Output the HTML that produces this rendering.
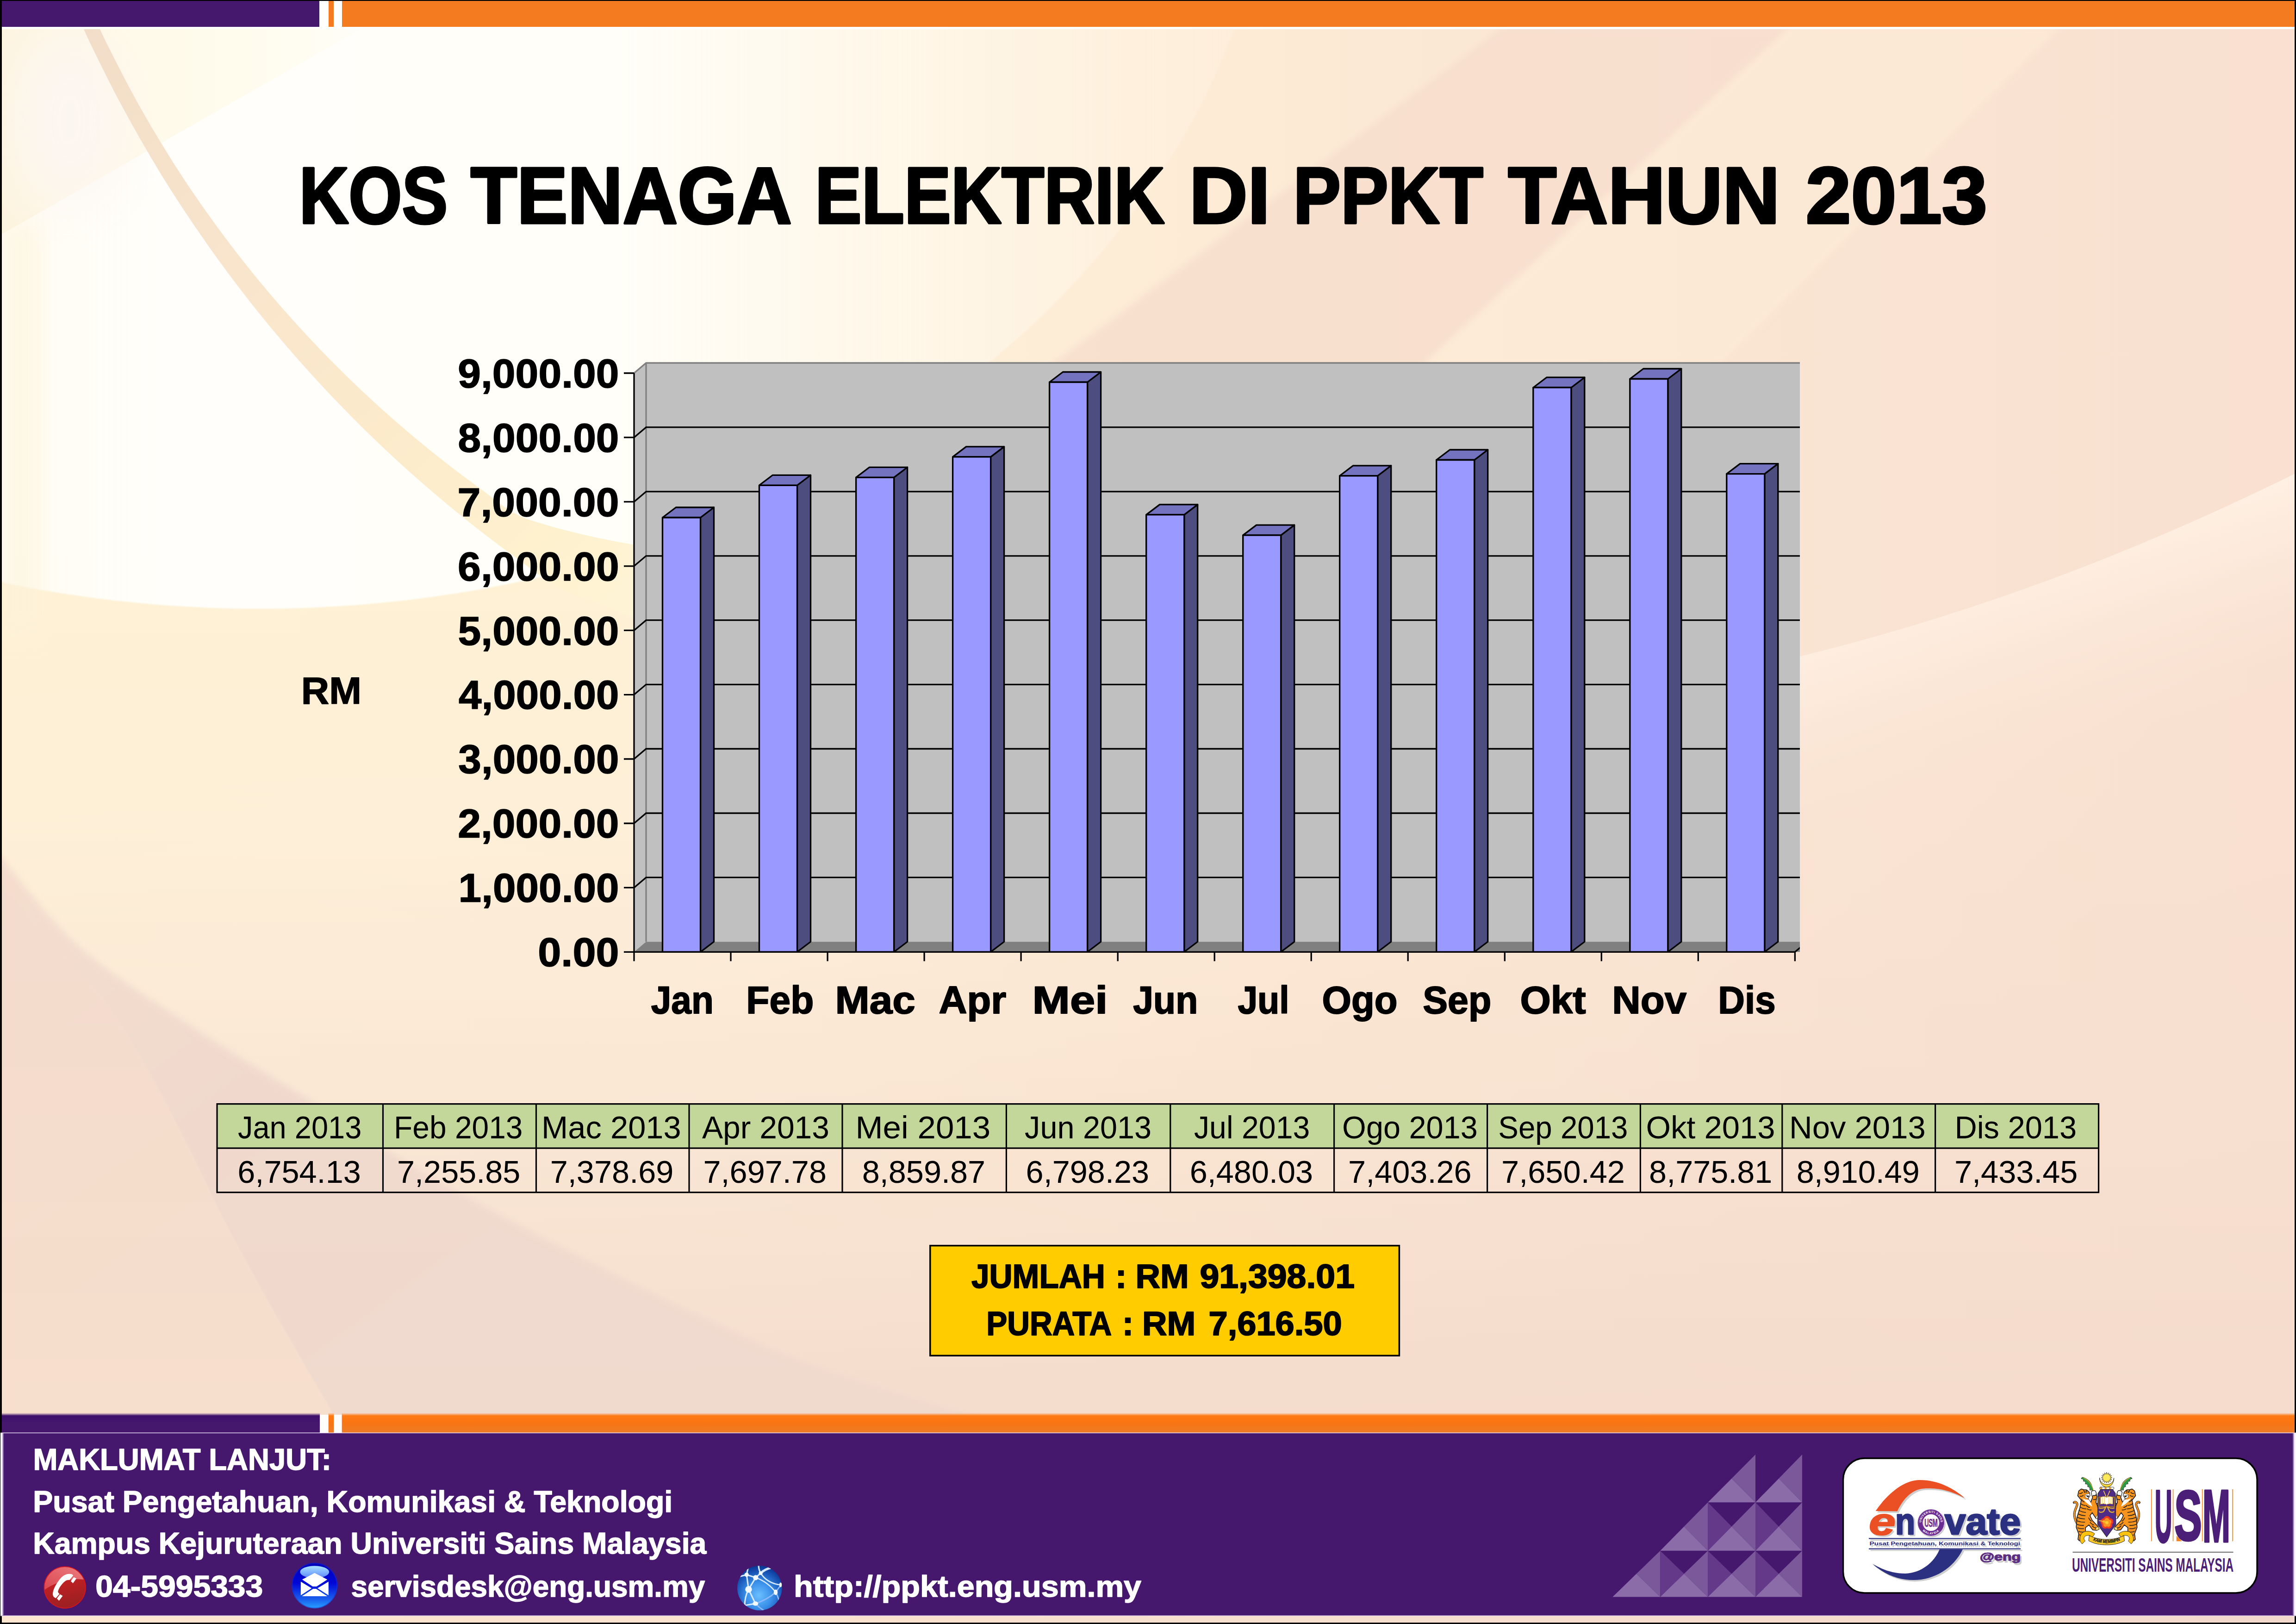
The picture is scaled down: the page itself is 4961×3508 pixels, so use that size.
<!DOCTYPE html>
<html lang="ms"><head><meta charset="utf-8"><title>KOS TENAGA ELEKTRIK DI PPKT TAHUN 2013</title>
<style>html,body{margin:0;padding:0;background:#000;}body{width:4961px;height:3508px;overflow:hidden;position:relative;}svg{position:absolute;left:0;top:0;display:block;font-family:'Liberation Sans', sans-serif;}</style>
</head><body>
<svg width="4961" height="3508" viewBox="0 0 4961 3508">
<defs>
<linearGradient id="bgbase" x1="0" y1="0" x2="1" y2="0"><stop offset="0" stop-color="#FEF2DA"/><stop offset="0.3" stop-color="#FEF1DB"/><stop offset="0.5" stop-color="#FDECD6"/><stop offset="0.75" stop-color="#FAE4D2"/><stop offset="1" stop-color="#F9E0D0"/></linearGradient>
<filter id="blur60" x="-20%" y="-20%" width="140%" height="140%"><feGaussianBlur stdDeviation="60"/></filter>
<filter id="blur120" x="-30%" y="-30%" width="160%" height="160%"><feGaussianBlur stdDeviation="120"/></filter>
<filter id="blur25" x="-20%" y="-20%" width="140%" height="140%"><feGaussianBlur stdDeviation="25"/></filter>
<filter id="blur3"><feGaussianBlur stdDeviation="1.5"/></filter>
<filter id="blur8" x="-5%" y="-5%" width="110%" height="110%"><feGaussianBlur stdDeviation="7"/></filter>
<clipPath id="pageclip"><rect x="4" y="63" width="4954" height="3442"/></clipPath>
<clipPath id="chartclip"><rect x="1300" y="770" width="2589" height="1330"/></clipPath>
</defs>
<rect x="0" y="0" width="4961" height="3508" fill="#000"/>
<rect x="4" y="2" width="4954" height="3503" fill="url(#bgbase)"/>
<g clip-path="url(#pageclip)">
<defs><linearGradient id="gBand" gradientUnits="userSpaceOnUse" x1="4400" y1="1150" x2="4560" y2="1650"><stop offset="0" stop-color="#FFF3E8" stop-opacity="1"/><stop offset="0.25" stop-color="#FEEEE0" stop-opacity="0.85"/><stop offset="1" stop-color="#F8E2D2" stop-opacity="0"/></linearGradient><linearGradient id="gArc" gradientUnits="userSpaceOnUse" x1="200" y1="60" x2="1400" y2="1330"><stop offset="0" stop-color="#F2DDC8"/><stop offset="0.3" stop-color="#F8E4CC"/><stop offset="0.6" stop-color="#FCEACB"/><stop offset="0.85" stop-color="#FEF1CE"/><stop offset="1" stop-color="#FEF4D6"/></linearGradient><linearGradient id="gGlow" gradientUnits="userSpaceOnUse" x1="0" y1="0" x2="3300" y2="0"><stop offset="0" stop-color="#FFFDF4" stop-opacity="0.9"/><stop offset="0.1" stop-color="#FFFEFA" stop-opacity="1"/><stop offset="0.4" stop-color="#FFFEF8" stop-opacity="1"/><stop offset="0.62" stop-color="#FFF8EA" stop-opacity="0.75"/><stop offset="1" stop-color="#FDEBD6" stop-opacity="0"/></linearGradient><linearGradient id="gBot" gradientUnits="userSpaceOnUse" x1="0" y1="1700" x2="0" y2="3060"><stop offset="0" stop-color="#F6DECE" stop-opacity="0"/><stop offset="0.5" stop-color="#F6DECE" stop-opacity="0.55"/><stop offset="1" stop-color="#F4DBCC" stop-opacity="0.95"/></linearGradient><linearGradient id="gBL" gradientUnits="userSpaceOnUse" x1="0" y1="1900" x2="900" y2="3100"><stop offset="0" stop-color="#F4DCCD"/><stop offset="0.5" stop-color="#F0D8CC"/><stop offset="1" stop-color="#F0D9CE"/></linearGradient><linearGradient id="gCream" gradientUnits="userSpaceOnUse" x1="0" y1="1250" x2="0" y2="2100"><stop offset="0" stop-color="#FEF1D4" stop-opacity="0.9"/><stop offset="1" stop-color="#FDEBD2" stop-opacity="0"/></linearGradient></defs>
<rect x="0" y="1200" width="2400" height="950" fill="url(#gCream)"/>
<rect x="0" y="1700" width="4961" height="1400" fill="url(#gBot)"/>
<ellipse cx="560" cy="-442" rx="2200" ry="1757" fill="url(#gGlow)" filter="url(#blur3)"/>
<defs><linearGradient id="gWedge" gradientUnits="userSpaceOnUse" x1="0" y1="0" x2="800" y2="0"><stop offset="0" stop-color="#FCF0D6"/><stop offset="0.3" stop-color="#FEF7DF"/><stop offset="0.7" stop-color="#FFFBEA"/><stop offset="1" stop-color="#FFFEF6"/></linearGradient></defs>
<polygon points="0,60 784,60 0,508" fill="url(#gWedge)" opacity="0.7"/>
<ellipse cx="150" cy="260" rx="130" ry="200" fill="#FCF6F4" opacity="0.8" filter="url(#blur60)"/>
<rect x="0" y="480" width="90" height="900" fill="#FDF3DC" opacity="0.55" filter="url(#blur25)"/>
<polygon points="3245,60 3866,60 3075,789 2850,1000 2050,1000 2268,789" fill="#F7DDCD" opacity="0.75" filter="url(#blur8)"/>
<polygon points="3866,60 4450,60 3400,1100 3075,789" fill="#FEEDD8" opacity="0.6" filter="url(#blur8)"/>
<path d="M166.2,30 C171.8,42.3 184.4,71.6 200.0,103.7 C215.6,135.8 238.3,182.2 260.0,222.7 C281.7,263.1 306.7,307.3 330.0,346.5 C353.3,385.7 375.0,420.1 400.0,457.8 C425.0,495.4 453.3,536.1 480.0,572.6 C506.7,609.1 531.7,641.6 560.0,676.7 C588.3,711.8 620.0,749.3 650.0,783.2 C680.0,817.1 710.0,849.2 740.0,880.1 C770.0,911.0 800.0,940.4 830.0,968.7 C860.0,997.1 889.2,1023.4 920.0,1050.1 C950.8,1076.8 983.3,1103.8 1015.0,1129.0 C1046.7,1154.2 1078.3,1178.2 1110.0,1201.3 C1141.7,1224.5 1175.0,1250.9 1205.0,1267.8 C1235.0,1284.8 1262.5,1292.1 1290.0,1303.0 C1317.5,1313.9 1343.3,1323.5 1370.0,1333.0 C1396.7,1342.5 1436.7,1355.5 1450.0,1360.0 L1450,1190 C1436.7,1187.8 1400.0,1182.5 1370.0,1177.0 C1340.0,1171.5 1302.2,1164.3 1270.0,1157.0 C1237.8,1149.7 1203.7,1141.2 1177.0,1133.0 C1150.3,1124.8 1132.8,1120.6 1110.0,1108.0 C1087.2,1095.4 1065.0,1075.6 1040.0,1057.1 C1015.0,1038.6 988.3,1019.3 960.0,997.0 C931.7,974.6 900.0,949.0 870.0,923.2 C840.0,897.4 810.0,870.5 780.0,842.2 C750.0,813.8 720.0,784.3 690.0,753.0 C660.0,721.7 628.3,686.9 600.0,654.3 C571.7,621.6 546.7,591.3 520.0,557.1 C493.3,523.0 465.0,484.8 440.0,449.3 C415.0,413.8 393.3,381.4 370.0,344.3 C346.7,307.2 322.5,266.9 300.0,226.6 C277.5,186.3 251.5,135.4 235.0,102.6 C218.5,69.9 206.5,42.1 200.8,30.0 Z" fill="url(#gArc)"/>
<path d="M3880,1420 C4250,1330 4600,1200 4961,1022 L4961,1700 L3880,1900 Z" fill="url(#gBand)"/>
<path d="M-40,1790 C-33.3,1799.5 -35.3,1804.5 0.0,1847.0 C35.3,1889.5 103.0,1983.3 172.0,2045.0 C241.0,2106.7 327.7,2159.5 414.0,2217.0 C500.3,2274.5 609.0,2338.8 690.0,2390.0 C771.0,2441.2 818.5,2476.2 900.0,2524.0 C981.5,2571.8 1086.2,2628.2 1179.0,2677.0 C1271.8,2725.8 1364.2,2772.8 1457.0,2817.0 C1549.8,2861.2 1631.3,2902.5 1736.0,2942.0 C1840.7,2981.5 1991.0,3025.2 2085.0,3054.0 C2179.0,3082.8 2264.2,3104.8 2300.0,3115.0 L-40,3115 Z" fill="url(#gBL)" opacity="0.9" filter="url(#blur8)"/>
<defs><linearGradient id="gBL2" gradientUnits="userSpaceOnUse" x1="0" y1="1900" x2="0" y2="3060"><stop offset="0" stop-color="#F3DBCD"/><stop offset="1" stop-color="#F9E1CD"/></linearGradient></defs>
<path d="M0,1907 C80,2000 150,2070 215,2148 C300,2260 380,2420 448,2562 C540,2750 630,2900 715,3045 L730,3110 L0,3110 Z" fill="url(#gBL2)" opacity="0.85" filter="url(#blur3)"/>
</g>
<rect x="4" y="2" width="4954" height="61" fill="#fff"/>
<rect x="4" y="2" width="686" height="56" fill="#45186E"/>
<rect x="710" y="2" width="11" height="56" fill="#F47B20"/>
<rect x="739" y="2" width="4219" height="56" fill="#F47B20"/>
<g id="title">
<text x="646.4" y="482.0" font-size="173" font-weight="bold" fill="#000" text-anchor="start" textLength="320.9" lengthAdjust="spacingAndGlyphs" stroke="#000" stroke-width="5" stroke-linejoin="round">KOS</text>
<text x="1016.7" y="482.0" font-size="173" font-weight="bold" fill="#000" text-anchor="start" textLength="694.2" lengthAdjust="spacingAndGlyphs" stroke="#000" stroke-width="5" stroke-linejoin="round">TENAGA</text>
<text x="1760.9" y="482.0" font-size="173" font-weight="bold" fill="#000" text-anchor="start" textLength="755.6" lengthAdjust="spacingAndGlyphs" stroke="#000" stroke-width="5" stroke-linejoin="round">ELEKTRIK</text>
<text x="2569.4" y="482.0" font-size="173" font-weight="bold" fill="#000" text-anchor="start" textLength="174.8" lengthAdjust="spacingAndGlyphs" stroke="#000" stroke-width="5" stroke-linejoin="round">DI</text>
<text x="2794.2" y="482.0" font-size="173" font-weight="bold" fill="#000" text-anchor="start" textLength="410.7" lengthAdjust="spacingAndGlyphs" stroke="#000" stroke-width="5" stroke-linejoin="round">PPKT</text>
<text x="3258.6" y="482.0" font-size="173" font-weight="bold" fill="#000" text-anchor="start" textLength="587.2" lengthAdjust="spacingAndGlyphs" stroke="#000" stroke-width="5" stroke-linejoin="round">TAHUN</text>
<text x="3901.4" y="482.0" font-size="173" font-weight="bold" fill="#000" text-anchor="start" textLength="392.5" lengthAdjust="spacingAndGlyphs" stroke="#000" stroke-width="5" stroke-linejoin="round">2013</text>
</g>
<g id="chart">
<g clip-path="url(#chartclip)">
<rect x="1396.0" y="784.0" width="2548.4" height="1250.3" fill="#C0C0C0"/>
<polygon points="1370.0,806.0 1396.0,784.0 1396.0,2034.3 1370.0,2056.3" fill="#C0C0C0"/>
<polygon points="1370.0,2056.3 1396.0,2034.3 3944.4,2034.3 3918.4,2056.3" fill="#808080"/>
<path d="M1370.0,806.0 L1396.0,784.0 H3958.4 M1396.0,784.0 V2034.3" fill="none" stroke="#808080" stroke-width="3.3"/>
<path d="M1370.0,1917.4 L1396.0,1895.4 H3958.4 M1370.0,1778.5 L1396.0,1756.5 H3958.4 M1370.0,1639.5 L1396.0,1617.5 H3958.4 M1370.0,1500.6 L1396.0,1478.6 H3958.4 M1370.0,1361.7 L1396.0,1339.7 H3958.4 M1370.0,1222.8 L1396.0,1200.8 H3958.4 M1370.0,1083.9 L1396.0,1061.9 H3958.4 M1370.0,944.9 L1396.0,922.9 H3958.4" fill="none" stroke="#000" stroke-width="3.3"/>
<path d="M3878.4,2056.3 l26.0,-22.0" stroke="#000" stroke-width="3.3" fill="none"/>
<g stroke="#000" stroke-width="3.3" stroke-linejoin="round"><polygon points="1513.5,1118.0 1542.5,1096.0 1542.5,2034.3 1513.5,2056.3" fill="#4D4D80"/><polygon points="1431.5,1118.0 1460.5,1096.0 1542.5,1096.0 1513.5,1118.0" fill="#7373BF"/><rect x="1431.5" y="1118.0" width="82.0" height="938.3" fill="#9999FF"/></g>
<g stroke="#000" stroke-width="3.3" stroke-linejoin="round"><polygon points="1722.5,1048.3 1751.5,1026.3 1751.5,2034.3 1722.5,2056.3" fill="#4D4D80"/><polygon points="1640.5,1048.3 1669.5,1026.3 1751.5,1026.3 1722.5,1048.3" fill="#7373BF"/><rect x="1640.5" y="1048.3" width="82.0" height="1008.0" fill="#9999FF"/></g>
<g stroke="#000" stroke-width="3.3" stroke-linejoin="round"><polygon points="1931.6,1031.3 1960.6,1009.3 1960.6,2034.3 1931.6,2056.3" fill="#4D4D80"/><polygon points="1849.6,1031.3 1878.6,1009.3 1960.6,1009.3 1931.6,1031.3" fill="#7373BF"/><rect x="1849.6" y="1031.3" width="82.0" height="1025.0" fill="#9999FF"/></g>
<g stroke="#000" stroke-width="3.3" stroke-linejoin="round"><polygon points="2140.6,986.9 2169.6,964.9 2169.6,2034.3 2140.6,2056.3" fill="#4D4D80"/><polygon points="2058.6,986.9 2087.6,964.9 2169.6,964.9 2140.6,986.9" fill="#7373BF"/><rect x="2058.6" y="986.9" width="82.0" height="1069.4" fill="#9999FF"/></g>
<g stroke="#000" stroke-width="3.3" stroke-linejoin="round"><polygon points="2349.6,825.5 2378.6,803.5 2378.6,2034.3 2349.6,2056.3" fill="#4D4D80"/><polygon points="2267.6,825.5 2296.6,803.5 2378.6,803.5 2349.6,825.5" fill="#7373BF"/><rect x="2267.6" y="825.5" width="82.0" height="1230.8" fill="#9999FF"/></g>
<g stroke="#000" stroke-width="3.3" stroke-linejoin="round"><polygon points="2558.7,1111.9 2587.7,1089.9 2587.7,2034.3 2558.7,2056.3" fill="#4D4D80"/><polygon points="2476.7,1111.9 2505.7,1089.9 2587.7,1089.9 2558.7,1111.9" fill="#7373BF"/><rect x="2476.7" y="1111.9" width="82.0" height="944.4" fill="#9999FF"/></g>
<g stroke="#000" stroke-width="3.3" stroke-linejoin="round"><polygon points="2767.7,1156.1 2796.7,1134.1 2796.7,2034.3 2767.7,2056.3" fill="#4D4D80"/><polygon points="2685.7,1156.1 2714.7,1134.1 2796.7,1134.1 2767.7,1156.1" fill="#7373BF"/><rect x="2685.7" y="1156.1" width="82.0" height="900.2" fill="#9999FF"/></g>
<g stroke="#000" stroke-width="3.3" stroke-linejoin="round"><polygon points="2976.7,1027.8 3005.7,1005.8 3005.7,2034.3 2976.7,2056.3" fill="#4D4D80"/><polygon points="2894.7,1027.8 2923.7,1005.8 3005.7,1005.8 2976.7,1027.8" fill="#7373BF"/><rect x="2894.7" y="1027.8" width="82.0" height="1028.5" fill="#9999FF"/></g>
<g stroke="#000" stroke-width="3.3" stroke-linejoin="round"><polygon points="3185.7,993.5 3214.7,971.5 3214.7,2034.3 3185.7,2056.3" fill="#4D4D80"/><polygon points="3103.7,993.5 3132.7,971.5 3214.7,971.5 3185.7,993.5" fill="#7373BF"/><rect x="3103.7" y="993.5" width="82.0" height="1062.8" fill="#9999FF"/></g>
<g stroke="#000" stroke-width="3.3" stroke-linejoin="round"><polygon points="3394.8,837.2 3423.8,815.2 3423.8,2034.3 3394.8,2056.3" fill="#4D4D80"/><polygon points="3312.8,837.2 3341.8,815.2 3423.8,815.2 3394.8,837.2" fill="#7373BF"/><rect x="3312.8" y="837.2" width="82.0" height="1219.1" fill="#9999FF"/></g>
<g stroke="#000" stroke-width="3.3" stroke-linejoin="round"><polygon points="3603.8,818.5 3632.8,796.5 3632.8,2034.3 3603.8,2056.3" fill="#4D4D80"/><polygon points="3521.8,818.5 3550.8,796.5 3632.8,796.5 3603.8,818.5" fill="#7373BF"/><rect x="3521.8" y="818.5" width="82.0" height="1237.8" fill="#9999FF"/></g>
<g stroke="#000" stroke-width="3.3" stroke-linejoin="round"><polygon points="3812.8,1023.6 3841.8,1001.6 3841.8,2034.3 3812.8,2056.3" fill="#4D4D80"/><polygon points="3730.8,1023.6 3759.8,1001.6 3841.8,1001.6 3812.8,1023.6" fill="#7373BF"/><rect x="3730.8" y="1023.6" width="82.0" height="1032.7" fill="#9999FF"/></g>
</g>
<path d="M1370.0,806.0 V2076.3 M1348.0,2056.3 H3878.4 M1348.0,1917.4 H1370.0 M1348.0,1778.5 H1370.0 M1348.0,1639.5 H1370.0 M1348.0,1500.6 H1370.0 M1348.0,1361.7 H1370.0 M1348.0,1222.8 H1370.0 M1348.0,1083.9 H1370.0 M1348.0,944.9 H1370.0 M1348.0,806.0 H1370.0 M1579.0,2056.3 V2076.3 M1788.1,2056.3 V2076.3 M1997.1,2056.3 V2076.3 M2206.1,2056.3 V2076.3 M2415.2,2056.3 V2076.3 M2624.2,2056.3 V2076.3 M2833.2,2056.3 V2076.3 M3042.2,2056.3 V2076.3 M3251.3,2056.3 V2076.3 M3460.3,2056.3 V2076.3 M3669.3,2056.3 V2076.3 M3878.4,2056.3 V2076.3" fill="none" stroke="#000" stroke-width="3.3" stroke-linecap="butt"/>
<text x="1162.2" y="2087.1" font-size="87" font-weight="bold" fill="#000" text-anchor="start" textLength="175.5" lengthAdjust="spacingAndGlyphs" stroke="#000" stroke-width="1.5" stroke-linejoin="round">0.00</text>
<text x="990.6" y="1948.2" font-size="87" font-weight="bold" fill="#000" text-anchor="start" textLength="347.0" lengthAdjust="spacingAndGlyphs" stroke="#000" stroke-width="1.5" stroke-linejoin="round">1,000.00</text>
<text x="989.2" y="1809.3" font-size="87" font-weight="bold" fill="#000" text-anchor="start" textLength="348.4" lengthAdjust="spacingAndGlyphs" stroke="#000" stroke-width="1.5" stroke-linejoin="round">2,000.00</text>
<text x="990.3" y="1670.3" font-size="87" font-weight="bold" fill="#000" text-anchor="start" textLength="347.3" lengthAdjust="spacingAndGlyphs" stroke="#000" stroke-width="1.5" stroke-linejoin="round">3,000.00</text>
<text x="991.0" y="1531.4" font-size="87" font-weight="bold" fill="#000" text-anchor="start" textLength="346.6" lengthAdjust="spacingAndGlyphs" stroke="#000" stroke-width="1.5" stroke-linejoin="round">4,000.00</text>
<text x="989.6" y="1392.5" font-size="87" font-weight="bold" fill="#000" text-anchor="start" textLength="348.0" lengthAdjust="spacingAndGlyphs" stroke="#000" stroke-width="1.5" stroke-linejoin="round">5,000.00</text>
<text x="989.1" y="1253.6" font-size="87" font-weight="bold" fill="#000" text-anchor="start" textLength="348.6" lengthAdjust="spacingAndGlyphs" stroke="#000" stroke-width="1.5" stroke-linejoin="round">6,000.00</text>
<text x="988.5" y="1114.7" font-size="87" font-weight="bold" fill="#000" text-anchor="start" textLength="349.1" lengthAdjust="spacingAndGlyphs" stroke="#000" stroke-width="1.5" stroke-linejoin="round">7,000.00</text>
<text x="989.5" y="975.7" font-size="87" font-weight="bold" fill="#000" text-anchor="start" textLength="348.1" lengthAdjust="spacingAndGlyphs" stroke="#000" stroke-width="1.5" stroke-linejoin="round">8,000.00</text>
<text x="989.2" y="836.8" font-size="87" font-weight="bold" fill="#000" text-anchor="start" textLength="348.4" lengthAdjust="spacingAndGlyphs" stroke="#000" stroke-width="1.5" stroke-linejoin="round">9,000.00</text>
<text x="1406.8" y="2188.5" font-size="83" font-weight="bold" fill="#000" text-anchor="start" textLength="135.0" lengthAdjust="spacingAndGlyphs" stroke="#000" stroke-width="2" stroke-linejoin="round">Jan</text>
<text x="1612.3" y="2188.5" font-size="83" font-weight="bold" fill="#000" text-anchor="start" textLength="146.0" lengthAdjust="spacingAndGlyphs" stroke="#000" stroke-width="2" stroke-linejoin="round">Feb</text>
<text x="1804.4" y="2188.5" font-size="83" font-weight="bold" fill="#000" text-anchor="start" textLength="173.5" lengthAdjust="spacingAndGlyphs" stroke="#000" stroke-width="2" stroke-linejoin="round">Mac</text>
<text x="2028.4" y="2188.5" font-size="83" font-weight="bold" fill="#000" text-anchor="start" textLength="145.9" lengthAdjust="spacingAndGlyphs" stroke="#000" stroke-width="2" stroke-linejoin="round">Apr</text>
<text x="2230.5" y="2188.5" font-size="83" font-weight="bold" fill="#000" text-anchor="start" textLength="162.9" lengthAdjust="spacingAndGlyphs" stroke="#000" stroke-width="2" stroke-linejoin="round">Mei</text>
<text x="2448.3" y="2188.5" font-size="83" font-weight="bold" fill="#000" text-anchor="start" textLength="140.0" lengthAdjust="spacingAndGlyphs" stroke="#000" stroke-width="2" stroke-linejoin="round">Jun</text>
<text x="2674.5" y="2188.5" font-size="83" font-weight="bold" fill="#000" text-anchor="start" textLength="111.1" lengthAdjust="spacingAndGlyphs" stroke="#000" stroke-width="2" stroke-linejoin="round">Jul</text>
<text x="2856.5" y="2188.5" font-size="83" font-weight="bold" fill="#000" text-anchor="start" textLength="163.0" lengthAdjust="spacingAndGlyphs" stroke="#000" stroke-width="2" stroke-linejoin="round">Ogo</text>
<text x="3074.3" y="2188.5" font-size="83" font-weight="bold" fill="#000" text-anchor="start" textLength="148.0" lengthAdjust="spacingAndGlyphs" stroke="#000" stroke-width="2" stroke-linejoin="round">Sep</text>
<text x="3284.4" y="2188.5" font-size="83" font-weight="bold" fill="#000" text-anchor="start" textLength="142.3" lengthAdjust="spacingAndGlyphs" stroke="#000" stroke-width="2" stroke-linejoin="round">Okt</text>
<text x="3483.2" y="2188.5" font-size="83" font-weight="bold" fill="#000" text-anchor="start" textLength="160.9" lengthAdjust="spacingAndGlyphs" stroke="#000" stroke-width="2" stroke-linejoin="round">Nov</text>
<text x="3712.3" y="2188.5" font-size="83" font-weight="bold" fill="#000" text-anchor="start" textLength="124.4" lengthAdjust="spacingAndGlyphs" stroke="#000" stroke-width="2" stroke-linejoin="round">Dis</text>
<text x="650.8" y="1520.0" font-size="82" font-weight="bold" fill="#000" text-anchor="start" textLength="130.3" lengthAdjust="spacingAndGlyphs" stroke="#000" stroke-width="1.5" stroke-linejoin="round">RM</text>
</g>
<g id="table">
<rect x="469" y="2384.7" width="4065.5" height="95.5" fill="#C4D79B"/>
<path d="M469,2384.7 V2575.7 M827.5,2384.7 V2575.7 M1158.5,2384.7 V2575.7 M1489,2384.7 V2575.7 M1820,2384.7 V2575.7 M2174.4,2384.7 V2575.7 M2528.8,2384.7 V2575.7 M2882.6,2384.7 V2575.7 M3213.6,2384.7 V2575.7 M3544.4,2384.7 V2575.7 M3850.8,2384.7 V2575.7 M4181.6,2384.7 V2575.7 M4534.5,2384.7 V2575.7 M469,2384.7 H4534.5 M469,2480.2 H4534.5 M469,2575.7 H4534.5" fill="none" stroke="#000" stroke-width="3.2" stroke-linecap="square"/>
<text x="514.0" y="2459.0" font-size="68" font-weight="normal" fill="#000" text-anchor="start" textLength="267.3" lengthAdjust="spacingAndGlyphs">Jan 2013</text>
<text x="513.3" y="2554.5" font-size="68" font-weight="normal" fill="#000" text-anchor="start" textLength="266.5" lengthAdjust="spacingAndGlyphs">6,754.13</text>
<text x="851.1" y="2459.0" font-size="68" font-weight="normal" fill="#000" text-anchor="start" textLength="278.3" lengthAdjust="spacingAndGlyphs">Feb 2013</text>
<text x="858.0" y="2554.5" font-size="68" font-weight="normal" fill="#000" text-anchor="start" textLength="266.4" lengthAdjust="spacingAndGlyphs">7,255.85</text>
<text x="1170.1" y="2459.0" font-size="68" font-weight="normal" fill="#000" text-anchor="start" textLength="301.7" lengthAdjust="spacingAndGlyphs">Mac 2013</text>
<text x="1188.7" y="2554.5" font-size="68" font-weight="normal" fill="#000" text-anchor="start" textLength="266.8" lengthAdjust="spacingAndGlyphs">7,378.69</text>
<text x="1516.9" y="2459.0" font-size="68" font-weight="normal" fill="#000" text-anchor="start" textLength="275.1" lengthAdjust="spacingAndGlyphs">Apr 2013</text>
<text x="1519.5" y="2554.5" font-size="68" font-weight="normal" fill="#000" text-anchor="start" textLength="266.5" lengthAdjust="spacingAndGlyphs">7,697.78</text>
<text x="1848.4" y="2459.0" font-size="68" font-weight="normal" fill="#000" text-anchor="start" textLength="291.9" lengthAdjust="spacingAndGlyphs">Mei 2013</text>
<text x="1862.7" y="2554.5" font-size="68" font-weight="normal" fill="#000" text-anchor="start" textLength="266.4" lengthAdjust="spacingAndGlyphs">8,859.87</text>
<text x="2214.1" y="2459.0" font-size="68" font-weight="normal" fill="#000" text-anchor="start" textLength="274.0" lengthAdjust="spacingAndGlyphs">Jun 2013</text>
<text x="2216.6" y="2554.5" font-size="68" font-weight="normal" fill="#000" text-anchor="start" textLength="266.5" lengthAdjust="spacingAndGlyphs">6,798.23</text>
<text x="2580.0" y="2459.0" font-size="68" font-weight="normal" fill="#000" text-anchor="start" textLength="250.3" lengthAdjust="spacingAndGlyphs">Jul 2013</text>
<text x="2570.7" y="2554.5" font-size="68" font-weight="normal" fill="#000" text-anchor="start" textLength="266.5" lengthAdjust="spacingAndGlyphs">6,480.03</text>
<text x="2900.1" y="2459.0" font-size="68" font-weight="normal" fill="#000" text-anchor="start" textLength="292.7" lengthAdjust="spacingAndGlyphs">Ogo 2013</text>
<text x="2913.1" y="2554.5" font-size="68" font-weight="normal" fill="#000" text-anchor="start" textLength="266.5" lengthAdjust="spacingAndGlyphs">7,403.26</text>
<text x="3237.3" y="2459.0" font-size="68" font-weight="normal" fill="#000" text-anchor="start" textLength="280.2" lengthAdjust="spacingAndGlyphs">Sep 2013</text>
<text x="3244.0" y="2554.5" font-size="68" font-weight="normal" fill="#000" text-anchor="start" textLength="267.0" lengthAdjust="spacingAndGlyphs">7,650.42</text>
<text x="3556.4" y="2459.0" font-size="68" font-weight="normal" fill="#000" text-anchor="start" textLength="279.1" lengthAdjust="spacingAndGlyphs">Okt 2013</text>
<text x="3563.1" y="2554.5" font-size="68" font-weight="normal" fill="#000" text-anchor="start" textLength="266.3" lengthAdjust="spacingAndGlyphs">8,775.81</text>
<text x="3866.1" y="2459.0" font-size="68" font-weight="normal" fill="#000" text-anchor="start" textLength="294.6" lengthAdjust="spacingAndGlyphs">Nov 2013</text>
<text x="3881.7" y="2554.5" font-size="68" font-weight="normal" fill="#000" text-anchor="start" textLength="266.2" lengthAdjust="spacingAndGlyphs">8,910.49</text>
<text x="4223.4" y="2459.0" font-size="68" font-weight="normal" fill="#000" text-anchor="start" textLength="263.8" lengthAdjust="spacingAndGlyphs">Dis 2013</text>
<text x="4223.0" y="2554.5" font-size="68" font-weight="normal" fill="#000" text-anchor="start" textLength="266.4" lengthAdjust="spacingAndGlyphs">7,433.45</text>
</g>
<g id="total">
<rect x="2009.8" y="2690.7" width="1013.6" height="237.6" fill="#FFCC00" stroke="#000" stroke-width="3.5"/>
<text x="2098.9" y="2781.5" font-size="72" font-weight="bold" fill="#000" text-anchor="start" textLength="289.1" lengthAdjust="spacingAndGlyphs" stroke="#000" stroke-width="2" stroke-linejoin="round">JUMLAH</text>
<text x="2410.0" y="2781.5" font-size="72" font-weight="bold" fill="#000" text-anchor="start" textLength="24.4" lengthAdjust="spacingAndGlyphs" stroke="#000" stroke-width="2" stroke-linejoin="round">:</text>
<text x="2453.6" y="2781.5" font-size="72" font-weight="bold" fill="#000" text-anchor="start" textLength="115.2" lengthAdjust="spacingAndGlyphs" stroke="#000" stroke-width="2" stroke-linejoin="round">RM</text>
<text x="2592.4" y="2781.5" font-size="72" font-weight="bold" fill="#000" text-anchor="start" textLength="334.6" lengthAdjust="spacingAndGlyphs" stroke="#000" stroke-width="2" stroke-linejoin="round">91,398.01</text>
<text x="2131.2" y="2884.0" font-size="72" font-weight="bold" fill="#000" text-anchor="start" textLength="271.0" lengthAdjust="spacingAndGlyphs" stroke="#000" stroke-width="2" stroke-linejoin="round">PURATA</text>
<text x="2424.7" y="2884.0" font-size="72" font-weight="bold" fill="#000" text-anchor="start" textLength="24.4" lengthAdjust="spacingAndGlyphs" stroke="#000" stroke-width="2" stroke-linejoin="round">:</text>
<text x="2468.0" y="2884.0" font-size="72" font-weight="bold" fill="#000" text-anchor="start" textLength="115.4" lengthAdjust="spacingAndGlyphs" stroke="#000" stroke-width="2" stroke-linejoin="round">RM</text>
<text x="2611.5" y="2884.0" font-size="72" font-weight="bold" fill="#000" text-anchor="start" textLength="288.1" lengthAdjust="spacingAndGlyphs" stroke="#000" stroke-width="2" stroke-linejoin="round">7,616.50</text>
</g>
<g id="footer">
<defs><linearGradient id="gSoftP" x1="0" y1="0" x2="0" y2="1"><stop offset="0" stop-color="#45186E" stop-opacity="0"/><stop offset="0.14" stop-color="#3E0F6A" stop-opacity="1"/><stop offset="0.5" stop-color="#45186E"/><stop offset="1" stop-color="#45186E"/></linearGradient><linearGradient id="gSoftO" x1="0" y1="0" x2="0" y2="1"><stop offset="0" stop-color="#FF7A14" stop-opacity="0"/><stop offset="0.14" stop-color="#FF7A14" stop-opacity="1"/><stop offset="0.45" stop-color="#FA7412"/><stop offset="1" stop-color="#EC7C28"/></linearGradient><linearGradient id="gFootL" x1="0" y1="0" x2="1" y2="0"><stop offset="0" stop-color="#FFFFFF"/><stop offset="0.45" stop-color="#F4E8FF"/><stop offset="0.8" stop-color="#7A5A9A"/><stop offset="1" stop-color="#45186E"/></linearGradient></defs>
<rect x="4" y="3052" width="687" height="44" fill="url(#gSoftP)"/>
<rect x="709.5" y="3052" width="12" height="44" fill="url(#gSoftO)"/>
<rect x="738.5" y="3052" width="4219.5" height="44" fill="url(#gSoftO)"/>
<rect x="691" y="3056" width="18.5" height="40" fill="#fff" opacity="0.95"/>
<rect x="721.5" y="3056" width="17" height="40" fill="#fff" opacity="0.95"/>
<rect x="1" y="3094.5" width="4960" height="396.5" fill="#E4D6EE"/>
<rect x="1" y="3096" width="4960" height="393.5" fill="#45186E"/>
<rect x="1" y="3096" width="8" height="393.5" fill="url(#gFootL)"/>
<rect x="-4961" y="3096" width="8" height="393.5" fill="url(#gFootL)" transform="scale(-1,1)"/>
<defs><linearGradient id="gStrip" x1="0" y1="0" x2="1" y2="0"><stop offset="0" stop-color="#FFE6D0"/><stop offset="0.5" stop-color="#F8E0CE"/><stop offset="1" stop-color="#F3D9CC"/></linearGradient></defs>
<rect x="4" y="3491" width="4954" height="14" fill="url(#gStrip)"/>
<text x="71.4" y="3174.5" font-size="65" font-weight="bold" fill="#fff" text-anchor="start" textLength="644.6" lengthAdjust="spacingAndGlyphs" stroke="#fff" stroke-width="1.5" stroke-linejoin="round">MAKLUMAT LANJUT:</text>
<text x="71.3" y="3266.2" font-size="65" font-weight="bold" fill="#fff" text-anchor="start" textLength="1382.0" lengthAdjust="spacingAndGlyphs" stroke="#fff" stroke-width="1.5" stroke-linejoin="round">Pusat Pengetahuan, Komunikasi &amp; Teknologi</text>
<text x="71.2" y="3356.4" font-size="65" font-weight="bold" fill="#fff" text-anchor="start" textLength="1455.1" lengthAdjust="spacingAndGlyphs" stroke="#fff" stroke-width="1.5" stroke-linejoin="round">Kampus Kejuruteraan Universiti Sains Malaysia</text>
<text x="206.3" y="3448.6" font-size="65" font-weight="bold" fill="#fff" text-anchor="start" textLength="362.0" lengthAdjust="spacingAndGlyphs" stroke="#fff" stroke-width="1.5" stroke-linejoin="round">04-5995333</text>
<text x="758.5" y="3448.6" font-size="65" font-weight="bold" fill="#fff" text-anchor="start" textLength="764.8" lengthAdjust="spacingAndGlyphs" stroke="#fff" stroke-width="1.5" stroke-linejoin="round">servisdesk@eng.usm.my</text>
<text x="1715.0" y="3448.6" font-size="65" font-weight="bold" fill="#fff" text-anchor="start" textLength="751.1" lengthAdjust="spacingAndGlyphs" stroke="#fff" stroke-width="1.5" stroke-linejoin="round">http://ppkt.eng.usm.my</text>
<defs><linearGradient id="gPhone" x1="0" y1="0" x2="0.3" y2="1"><stop offset="0" stop-color="#C8202A"/><stop offset="0.5" stop-color="#BC2024"/><stop offset="1" stop-color="#9E2022"/></linearGradient><linearGradient id="gPhoneHi" x1="0" y1="1" x2="1" y2="0"><stop offset="0" stop-color="#DD4550"/><stop offset="1" stop-color="#F08A8C"/></linearGradient><clipPath id="cPhone"><circle cx="140.2" cy="3429" r="44"/></clipPath><linearGradient id="gMail" x1="0" y1="0" x2="0" y2="1"><stop offset="0" stop-color="#0000B8"/><stop offset="0.45" stop-color="#0008D8"/><stop offset="0.8" stop-color="#1A60EE"/><stop offset="1" stop-color="#28A0FF"/></linearGradient><linearGradient id="gMailHi" x1="0" y1="0" x2="0" y2="1"><stop offset="0" stop-color="#A8E4FF"/><stop offset="1" stop-color="#5C84FF"/></linearGradient><radialGradient id="gGlobe" gradientUnits="userSpaceOnUse" cx="1640" cy="3446" r="62"><stop offset="0" stop-color="#6CC0FF"/><stop offset="0.45" stop-color="#3A90EA"/><stop offset="0.8" stop-color="#1A58B8"/><stop offset="1" stop-color="#0A3A9A"/></radialGradient><clipPath id="cGlobe"><circle cx="1641.3" cy="3430.4" r="48.2"/></clipPath></defs>
<g id="icon-phone">
<circle cx="140.2" cy="3429" r="45.7" fill="#D8141E"/>
<circle cx="140.2" cy="3429" r="44" fill="url(#gPhone)"/>
<path clip-path="url(#cPhone)" d="M90,3440 C110,3420 150,3408 182,3412 L190,3380 L90,3380 Z" fill="url(#gPhoneHi)" opacity="0.92"/>
<path d="M155.9,3400.7 C147,3398 139,3401 132,3408 C124,3417 116,3430 114.3,3440 C113.6,3445 114.5,3448 116.7,3450 L120.6,3452.3 L128.5,3442.9 C125,3440 124.5,3438 126.5,3434 C129,3428 134,3421 139.5,3416.5 C143.5,3413.2 146.5,3412.2 149.8,3413.3 L158.2,3403.2 Z" fill="#fff"/>
<polygon points="152.9,3415.5 159.4,3406.8 165.1,3409.8 157.7,3420.1" fill="#fff"/>
<polygon points="122.8,3452.9 129.8,3443.8 135.5,3447.3 127.6,3457.7" fill="#fff"/>
</g>
<g id="icon-mail">
<circle cx="679.8" cy="3425" r="49.3" fill="url(#gMail)"/>
<circle cx="679.8" cy="3425" r="48.3" fill="none" stroke="#2030C8" stroke-width="2" opacity="0.5"/>
<ellipse cx="679.8" cy="3395.7" rx="31.4" ry="13.3" fill="url(#gMailHi)"/>
<polygon points="679.8,3397.8 707.3,3412 684,3427 675.7,3427 652.8,3412" fill="#fff"/>
<polygon points="649.9,3416.5 673.2,3430.7 649.9,3446" fill="#fff"/>
<polygon points="709.8,3416.5 686,3430.7 709.8,3446" fill="#fff"/>
<polygon points="652.4,3447.9 676.5,3432 683.2,3432 707.3,3447.9" fill="#fff"/>
</g>
<g id="icon-globe">
<circle cx="1641.3" cy="3430.4" r="48.2" fill="url(#gGlobe)"/>
<g clip-path="url(#cGlobe)" fill="none" stroke="#D4E8FF" stroke-width="3.2" stroke-linecap="round">
<path d="M1613.2,3401.6 L1616.5,3386 M1613.2,3401.6 L1596,3406 M1613.2,3401.6 L1632.8,3407.8 L1643.6,3398.2 M1643.6,3398.2 C1640,3392 1639,3386 1639,3380 M1632.8,3407.8 L1617.5,3433.2 M1613.2,3401.6 L1617.5,3433.2 L1632.3,3463.9 M1617.5,3433.2 C1611,3445 1609,3456 1609,3470 M1632.3,3463.9 L1608,3468"/>
<path d="M1643.6,3398.2 C1650,3392 1658,3388 1668,3386" stroke-width="5"/>
<path d="M1643.6,3398.2 C1652,3412 1668,3422 1687.2,3423.6 M1632.8,3407.8 C1650,3414 1665,3425 1676,3439.4" stroke-width="2.8"/>
<path d="M1632.3,3463.9 C1650,3458 1664,3450 1676,3439.4 L1687.2,3423.6 M1676,3439.4 C1680,3446 1682,3452 1684,3460 M1632.3,3463.9 C1638,3470 1644,3475 1652,3480" stroke="#8CB8FF" stroke-width="2.8"/>
</g>
<g fill="#F4F9FF"><circle cx="1613.2" cy="3401.6" r="4.6"/><circle cx="1632.8" cy="3407.8" r="5.6"/><circle cx="1643.6" cy="3398.2" r="4"/><circle cx="1617.5" cy="3433.2" r="7.2"/><ellipse cx="1676" cy="3439.4" rx="4.2" ry="6"/><ellipse cx="1686.6" cy="3423.6" rx="2.6" ry="5"/><ellipse cx="1632.3" cy="3463.9" rx="6" ry="4.6"/></g>
</g>
<g id="tri-pattern">
<polygon points="3587.3,3349.8 3535.8500000000004,3399.6000000000004 3587.3,3449.4" fill="#7A5899"/>
<polygon points="3484.4,3449.4 3535.8500000000004,3399.6000000000004 3587.3,3449.4" fill="#8B6BA8"/>
<polygon points="3587.3,3349.8 3638.75,3399.6000000000004 3587.3,3449.4" fill="#65398A"/>
<polygon points="3690.2,3349.8 3638.75,3399.6000000000004 3690.2,3449.4" fill="#7A5899"/>
<polygon points="3587.3,3449.4 3638.75,3399.6000000000004 3690.2,3449.4" fill="#8B6BA8"/>
<polygon points="3690.2,3349.8 3741.6,3399.6000000000004 3690.2,3449.4" fill="#65398A"/>
<polygon points="3793.0,3349.8 3741.6,3399.6000000000004 3793.0,3449.4" fill="#7A5899"/>
<polygon points="3690.2,3449.4 3741.6,3399.6000000000004 3793.0,3449.4" fill="#8B6BA8"/>
<polygon points="3793.0,3349.8 3843.45,3399.6000000000004 3793.0,3449.4" fill="#65398A"/>
<polygon points="3893.9,3349.8 3843.45,3399.6000000000004 3893.9,3449.4" fill="#7A5899"/>
<polygon points="3793.0,3449.4 3843.45,3399.6000000000004 3893.9,3449.4" fill="#8B6BA8"/>
<polygon points="3690.2,3245.3 3638.75,3297.55 3690.2,3349.8" fill="#7A5899"/>
<polygon points="3587.3,3349.8 3638.75,3297.55 3690.2,3349.8" fill="#8B6BA8"/>
<polygon points="3690.2,3245.3 3741.6,3297.55 3690.2,3349.8" fill="#65398A"/>
<polygon points="3793.0,3245.3 3741.6,3297.55 3793.0,3349.8" fill="#7A5899"/>
<polygon points="3690.2,3349.8 3741.6,3297.55 3793.0,3349.8" fill="#8B6BA8"/>
<polygon points="3793.0,3245.3 3843.45,3297.55 3793.0,3349.8" fill="#65398A"/>
<polygon points="3893.9,3245.3 3843.45,3297.55 3893.9,3349.8" fill="#7A5899"/>
<polygon points="3793.0,3349.8 3843.45,3297.55 3893.9,3349.8" fill="#8B6BA8"/>
<polygon points="3793.0,3142.0 3741.6,3193.65 3793.0,3245.3" fill="#7A5899"/>
<polygon points="3690.2,3245.3 3741.6,3193.65 3793.0,3245.3" fill="#8B6BA8"/>
<polygon points="3893.9,3142.0 3843.45,3193.65 3893.9,3245.3" fill="#7A5899"/>
<polygon points="3793.0,3245.3 3843.45,3193.65 3893.9,3245.3" fill="#8B6BA8"/>
</g>
<g id="logo-box">
<rect x="3982.5" y="3150" width="894.5" height="291" rx="46" ry="46" fill="#fff" stroke="#000" stroke-width="3.4"/>
</g>
<g id="logo-enovate">
<g transform="translate(3.4,3.4)" opacity="0.9"><path d="M4052.6,3263.9 C4082.0,3221.5 4116.8,3197.5 4147.3,3197.1 C4186.5,3196.6 4221.3,3214.9 4245.3,3236.1 C4210.4,3217.1 4182.1,3213.8 4156.0,3215.4 C4132.0,3217.1 4112.4,3236.7 4099.4,3264.6 Z" fill="#C9C9C9"/>
<path d="M4046.0,3378.3 C4073.2,3402.2 4103.7,3413.1 4134.2,3413.1 C4179.9,3413.1 4221.3,3387.0 4240.9,3346.7 L4190.8,3346.7 C4179.9,3373.9 4151.6,3397.9 4116.8,3398.9 C4090.7,3398.9 4068.9,3391.3 4046.0,3378.3 Z" fill="#C9C9C9"/>
<text x="4037.9" y="3315.1" font-size="82" font-weight="bold" font-style="italic" fill="#C9C9C9" textLength="57.9" lengthAdjust="spacingAndGlyphs" stroke="#C9C9C9" stroke-width="2" stroke-linejoin="round">e</text>
<text x="4095.1" y="3314.0" font-size="80" font-weight="bold" fill="#C9C9C9" textLength="43.0" lengthAdjust="spacingAndGlyphs" stroke="#C9C9C9" stroke-width="3" stroke-linejoin="round">n</text>
<text x="4201.8" y="3314.0" font-size="80" font-weight="bold" fill="#C9C9C9" textLength="164.5" lengthAdjust="spacingAndGlyphs" stroke="#C9C9C9" stroke-width="3" stroke-linejoin="round">vate</text>
<path d="M4038.0,3323.4 H4366.1 M4038.0,3345.6 H4366.1" stroke="#C9C9C9" stroke-width="2.4" fill="none"/>
<text x="4039.6" y="3338.2" font-size="11.3" font-weight="bold" fill="#C9C9C9" textLength="325.5" lengthAdjust="spacingAndGlyphs">Pusat Pengetahuan, Komunikasi &amp; Teknologi</text>
<text x="4277.8" y="3371.3" font-size="24" font-weight="bold" fill="#C9C9C9" textLength="88.4" lengthAdjust="spacingAndGlyphs" stroke="#C9C9C9" stroke-width="1.2" stroke-linejoin="round">@eng</text></g>
<path d="M4052.6,3263.9 C4082.0,3221.5 4116.8,3197.5 4147.3,3197.1 C4186.5,3196.6 4221.3,3214.9 4245.3,3236.1 C4210.4,3217.1 4182.1,3213.8 4156.0,3215.4 C4132.0,3217.1 4112.4,3236.7 4099.4,3264.6 Z" fill="#EB5024"/>
<path d="M4046.0,3378.3 C4073.2,3402.2 4103.7,3413.1 4134.2,3413.1 C4179.9,3413.1 4221.3,3387.0 4240.9,3346.7 L4190.8,3346.7 C4179.9,3373.9 4151.6,3397.9 4116.8,3398.9 C4090.7,3398.9 4068.9,3391.3 4046.0,3378.3 Z" fill="#2B3180"/>
<text x="4037.9" y="3315.1" font-size="82" font-weight="bold" font-style="italic" fill="#EB5024" textLength="57.9" lengthAdjust="spacingAndGlyphs" stroke="#EB5024" stroke-width="2" stroke-linejoin="round">e</text>
<text x="4095.1" y="3314.0" font-size="80" font-weight="bold" fill="#2B3180" textLength="43.0" lengthAdjust="spacingAndGlyphs" stroke="#2B3180" stroke-width="3" stroke-linejoin="round">n</text>
<text x="4201.8" y="3314.0" font-size="80" font-weight="bold" fill="#2B3180" textLength="164.5" lengthAdjust="spacingAndGlyphs" stroke="#2B3180" stroke-width="3" stroke-linejoin="round">vate</text>
<path d="M4038.0,3323.4 H4366.1 M4038.0,3345.6 H4366.1" stroke="#2B3180" stroke-width="2.4" fill="none"/>
<text x="4039.6" y="3338.2" font-size="11.3" font-weight="bold" fill="#2B3180" textLength="325.5" lengthAdjust="spacingAndGlyphs">Pusat Pengetahuan, Komunikasi &amp; Teknologi</text>
<text x="4277.8" y="3371.3" font-size="24" font-weight="bold" fill="#5A2D82" textLength="88.4" lengthAdjust="spacingAndGlyphs" stroke="#5A2D82" stroke-width="1.2" stroke-linejoin="round">@eng</text>
<circle cx="4174.3" cy="3291.0" r="29.6" fill="#C9C9C9"/>
<circle cx="4172.3" cy="3289.0" r="29.4" fill="#fff"/>
<circle cx="4172.3" cy="3289.0" r="23" fill="none" stroke="#6A2C91" stroke-width="10"/>
<circle cx="4172.3" cy="3289.0" r="28.4" fill="none" stroke="#6A2C91" stroke-width="0.8"/>
<defs><path id="sealTop" d="M4151.1,3289.0 A21.2,21.2 0 0 1 4193.5,3289.0"/><path id="sealBot" d="M4146.9,3289.0 A25.4,25.4 0 0 0 4197.7,3289.0"/></defs>
<text font-size="6.4" font-weight="bold" fill="#fff" letter-spacing="0.5"><textPath href="#sealTop" startOffset="50%" text-anchor="middle">UNIVERSITI SAINS</textPath></text>
<text font-size="6.4" font-weight="bold" fill="#fff" letter-spacing="0.9"><textPath href="#sealBot" startOffset="50%" text-anchor="middle">MALAYSIA</textPath></text>
<text x="4158.4" y="3297.5" font-size="24" font-weight="bold" fill="#6A2C91" textLength="28.0" lengthAdjust="spacingAndGlyphs" stroke="#6A2C91" stroke-width="0.6" stroke-linejoin="round">USM</text>
<path d="M4157.3,3280.0 v18 M4166.1,3280.0 v18 M4175.5,3280.0 v18 M4187.3,3280.0 v18" stroke="#F58220" stroke-width="0.7" fill="none"/>
</g>
<g id="logo-usm">
<text x="4656.1" y="3329.9" font-size="160" font-weight="bold" fill="#4B1E78" textLength="37.2" lengthAdjust="spacingAndGlyphs" stroke="#4B1E78" stroke-width="5" stroke-linejoin="round">U</text>
<text x="4698.2" y="3327.4" font-size="152" font-weight="bold" fill="#4B1E78" textLength="59.4" lengthAdjust="spacingAndGlyphs" stroke="#4B1E78" stroke-width="5" stroke-linejoin="round">S</text>
<text x="4759.0" y="3329.9" font-size="160" font-weight="bold" fill="#4B1E78" textLength="59.7" lengthAdjust="spacingAndGlyphs" stroke="#4B1E78" stroke-width="5" stroke-linejoin="round">M</text>
<path d="M4648.7,3217.1 V3329.3 M4695.5,3217.1 V3329.3 M4758.6,3217.1 V3329.3 M4824.0,3217.1 V3329.3" stroke="#F58220" stroke-width="1.6" fill="none"/>
<polygon points="4702.7,3329.3 4702.7,3317.3 4714.4,3329.3" fill="#F58220"/>
<path d="M4478.4,3352.8 H4825.5" stroke="#3a3a3a" stroke-width="1.4" fill="none"/>
<text x="4476.9" y="3394.6" font-size="42.6" font-weight="bold" fill="#4B1E78" textLength="349.2" lengthAdjust="spacingAndGlyphs">UNIVERSITI SAINS MALAYSIA</text>
<g id="usm-crest" transform="translate(4470,3170) scale(0.10774)" stroke-linejoin="round" stroke-linecap="round">
<g><path d="M215,1180 C120,1080 90,950 130,850 C160,770 190,740 150,700 C135,685 115,690 105,700" fill="none" stroke="#231F20" stroke-width="46"/>
<path d="M215,1180 C120,1080 90,950 130,850 C160,770 190,740 150,700 C135,685 115,690 105,700" fill="none" stroke="#F7941D" stroke-width="30" stroke-dasharray="34 14"/>
<path d="M480,450 C470,330 420,250 300,200 C270,190 255,200 250,225 C290,225 300,250 290,275 C330,270 345,300 330,330 C370,325 390,355 378,385 C410,385 430,415 420,450 Z" fill="#2C9A47" stroke="#231F20" stroke-width="8"/>
<path d="M300,205 C400,260 470,340 495,470 L520,640" fill="none" stroke="#C9B037" stroke-width="14"/>
<path d="M200,470 L250,430 L300,445 L360,450 L410,495 L425,560 L385,625 L440,700 L478,600 L452,500 C460,455 540,445 545,500 L565,580 L545,700 L600,820 L650,985 L600,1030 L545,1020 L470,905 L425,965 L470,1060 L585,1180 L610,1235 L560,1260 L480,1250 L405,1150 L335,1205 L335,1300 L295,1400 L290,1455 L215,1470 L185,1440 L200,1330 L150,1200 L165,1000 L225,800 L250,655 L180,565 Z" fill="#F7941D" stroke="#231F20" stroke-width="16"/>
<path d="M260,600 C300,640 360,650 400,640 L440,700 L470,780 C420,760 330,700 260,600 Z" fill="#fff"/>
<path d="M330,540 L415,520 L425,560 L385,625 L330,600 Z" fill="#fff" stroke="#231F20" stroke-width="6"/>
<path d="M452,500 C460,455 540,445 545,500 L555,560 L470,570 Z" fill="#fff" stroke="#231F20" stroke-width="8"/>
<path d="M545,1020 L600,1030 L650,985 L620,940 L560,960 Z" fill="#fff" stroke="#231F20" stroke-width="6"/>
<path d="M215,1470 L290,1455 L292,1405 L235,1400 Z" fill="#fff" stroke="#231F20" stroke-width="6"/>
<path d="M560,1260 L610,1235 L590,1190 L530,1210 Z" fill="#FFE27A" stroke="#231F20" stroke-width="6"/>
<path d="M335,560 L410,565 L390,600 Z" fill="#231F20"/><circle cx="330" cy="490" r="12" fill="#231F20"/>
<path d="M215,520 Q245.0,528.0 275,500 M230,575 Q260.0,585.5 290,560 M255,640 Q282.5,683.0 310,690 M235,720 Q282.5,758.0 330,760 M225,790 Q285.0,828.0 345,830 M205,860 Q272.5,898.0 340,900 M190,930 Q260.0,965.5 330,965 M175,1000 Q247.5,1033.0 320,1030 M168,1070 Q244.0,1100.5 320,1095 M165,1140 Q232.5,1168.0 300,1160 M180,1210 Q240.0,1235.5 300,1225 M205,1280 Q262.5,1303.0 320,1290 M215,1350 Q262.5,1370.5 310,1355 M350,760 Q385.0,798.0 420,800 M370,830 Q410.0,858.0 450,850 M400,1010 Q425.0,1060.5 450,1075 M430,1100 Q465.0,1143.0 500,1150 M470,1170 Q507.5,1210.5 545,1215 M560,720 Q580.0,728.0 600,700 M575,790 Q600.0,798.0 625,770 M600,860 Q625.0,870.5 650,845 M490,560 Q517.5,570.5 545,545 M495,640 Q522.5,653.0 550,630 M300,450 Q310.0,493.0 320,500 M355,455 Q357.5,495.5 360,500" fill="none" stroke="#231F20" stroke-width="15"/></g>
<g transform="translate(1520,0) scale(-1,1)"><path d="M215,1180 C120,1080 90,950 130,850 C160,770 190,740 150,700 C135,685 115,690 105,700" fill="none" stroke="#231F20" stroke-width="46"/>
<path d="M215,1180 C120,1080 90,950 130,850 C160,770 190,740 150,700 C135,685 115,690 105,700" fill="none" stroke="#F7941D" stroke-width="30" stroke-dasharray="34 14"/>
<path d="M480,450 C470,330 420,250 300,200 C270,190 255,200 250,225 C290,225 300,250 290,275 C330,270 345,300 330,330 C370,325 390,355 378,385 C410,385 430,415 420,450 Z" fill="#2C9A47" stroke="#231F20" stroke-width="8"/>
<path d="M300,205 C400,260 470,340 495,470 L520,640" fill="none" stroke="#C9B037" stroke-width="14"/>
<path d="M200,470 L250,430 L300,445 L360,450 L410,495 L425,560 L385,625 L440,700 L478,600 L452,500 C460,455 540,445 545,500 L565,580 L545,700 L600,820 L650,985 L600,1030 L545,1020 L470,905 L425,965 L470,1060 L585,1180 L610,1235 L560,1260 L480,1250 L405,1150 L335,1205 L335,1300 L295,1400 L290,1455 L215,1470 L185,1440 L200,1330 L150,1200 L165,1000 L225,800 L250,655 L180,565 Z" fill="#F7941D" stroke="#231F20" stroke-width="16"/>
<path d="M260,600 C300,640 360,650 400,640 L440,700 L470,780 C420,760 330,700 260,600 Z" fill="#fff"/>
<path d="M330,540 L415,520 L425,560 L385,625 L330,600 Z" fill="#fff" stroke="#231F20" stroke-width="6"/>
<path d="M452,500 C460,455 540,445 545,500 L555,560 L470,570 Z" fill="#fff" stroke="#231F20" stroke-width="8"/>
<path d="M545,1020 L600,1030 L650,985 L620,940 L560,960 Z" fill="#fff" stroke="#231F20" stroke-width="6"/>
<path d="M215,1470 L290,1455 L292,1405 L235,1400 Z" fill="#fff" stroke="#231F20" stroke-width="6"/>
<path d="M560,1260 L610,1235 L590,1190 L530,1210 Z" fill="#FFE27A" stroke="#231F20" stroke-width="6"/>
<path d="M335,560 L410,565 L390,600 Z" fill="#231F20"/><circle cx="330" cy="490" r="12" fill="#231F20"/>
<path d="M215,520 Q245.0,528.0 275,500 M230,575 Q260.0,585.5 290,560 M255,640 Q282.5,683.0 310,690 M235,720 Q282.5,758.0 330,760 M225,790 Q285.0,828.0 345,830 M205,860 Q272.5,898.0 340,900 M190,930 Q260.0,965.5 330,965 M175,1000 Q247.5,1033.0 320,1030 M168,1070 Q244.0,1100.5 320,1095 M165,1140 Q232.5,1168.0 300,1160 M180,1210 Q240.0,1235.5 300,1225 M205,1280 Q262.5,1303.0 320,1290 M215,1350 Q262.5,1370.5 310,1355 M350,760 Q385.0,798.0 420,800 M370,830 Q410.0,858.0 450,850 M400,1010 Q425.0,1060.5 450,1075 M430,1100 Q465.0,1143.0 500,1150 M470,1170 Q507.5,1210.5 545,1215 M560,720 Q580.0,728.0 600,700 M575,790 Q600.0,798.0 625,770 M600,860 Q625.0,870.5 650,845 M490,560 Q517.5,570.5 545,545 M495,640 Q522.5,653.0 550,630 M300,450 Q310.0,493.0 320,500 M355,455 Q357.5,495.5 360,500" fill="none" stroke="#231F20" stroke-width="15"/></g>
<path d="M618,210 A144,185 0 0 0 906,210 A144,132 0 0 1 618,210 Z" fill="#FFD83A" stroke="#231F20" stroke-width="9"/>
<polygon points="760.0,97.0 774.0,134.4 801.3,105.2 800.0,145.1 836.4,128.6 819.9,165.0 859.8,163.7 830.6,191.0 868.0,205.0 830.6,219.0 859.8,246.3 819.9,245.0 836.4,281.4 800.0,264.9 801.3,304.8 774.0,275.6 760.0,313.0 746.0,275.6 718.7,304.8 720.0,264.9 683.6,281.4 700.1,245.0 660.2,246.3 689.4,219.0 652.0,205.0 689.4,191.0 660.2,163.7 700.1,165.0 683.6,128.6 720.0,145.1 718.7,105.2 746.0,134.4" fill="#FFE85A" stroke="#231F20" stroke-width="7"/>
<rect x="618" y="392" width="290" height="46" rx="23" fill="#fff" stroke="#231F20" stroke-width="8"/>
<ellipse cx="650" cy="415" rx="20" ry="19" fill="#F7941D"/>
<ellipse cx="694" cy="415" rx="20" ry="19" fill="#fff"/>
<ellipse cx="738" cy="415" rx="20" ry="19" fill="#F7941D"/>
<ellipse cx="782" cy="415" rx="20" ry="19" fill="#fff"/>
<ellipse cx="826" cy="415" rx="20" ry="19" fill="#F7941D"/>
<ellipse cx="870" cy="415" rx="20" ry="19" fill="#fff"/>
<path d="M585,520 L640,440 L880,440 L937,520 L945,1140 L760,1392 L578,1140 Z" fill="#4F2D86" stroke="#231F20" stroke-width="10"/>
<path d="M700,470 L748,580 M822,470 L775,580" stroke="#FFD83A" stroke-width="14" fill="none"/>
<rect x="604" y="592" width="314" height="190" fill="none" stroke="#B8860B" stroke-width="16"/>
<path d="M640,600 C680,575 730,580 760,600 C790,580 840,575 882,600 L882,735 C840,715 790,720 760,745 C730,720 680,715 640,735 Z" fill="#fff" stroke="#D8B020" stroke-width="8"/>
<path d="M672,598 V722 M715,592 V722 M805,592 V722 M848,598 V722" stroke="#FFE27A" stroke-width="22" fill="none"/>
<path d="M610,810 C680,830 720,800 745,790 L700,880 C670,900 630,905 615,885 M910,810 C840,830 800,800 775,790 L820,880 C850,900 890,905 905,885" stroke="#E0B030" stroke-width="22" fill="none"/>
<circle cx="760" cy="775" r="14" fill="#F15A22"/>
<circle cx="765.0" cy="1043.0" r="70" fill="#EE3A24"/>
<circle cx="824.0" cy="1085.8" r="70" fill="#EE3A24"/>
<circle cx="801.4" cy="1155.2" r="70" fill="#EE3A24"/>
<circle cx="728.6" cy="1155.2" r="70" fill="#EE3A24"/>
<circle cx="706.0" cy="1085.8" r="70" fill="#EE3A24"/>
<circle cx="765.0" cy="1055.0" r="44" fill="#F7931E"/>
<circle cx="812.6" cy="1089.5" r="44" fill="#F7931E"/>
<circle cx="794.4" cy="1145.5" r="44" fill="#F7931E"/>
<circle cx="735.6" cy="1145.5" r="44" fill="#F7931E"/>
<circle cx="717.4" cy="1089.5" r="44" fill="#F7931E"/>
<circle cx="765" cy="1105" r="34" fill="#FFC233"/>
<path d="M765,1105 C720,1085 680,1075 610,1065" stroke="#FFD83A" stroke-width="16" fill="none"/>
<path d="M300,1290 C380,1260 470,1280 520,1330 L470,1400 C440,1360 390,1350 340,1370 C300,1390 290,1440 330,1470 L270,1530 C200,1480 210,1340 300,1290 Z" fill="#FFC20E" stroke="#231F20" stroke-width="9"/>
<path d="M1220,1290 C1140,1260 1050,1280 1000,1330 L1050,1400 C1080,1360 1130,1350 1180,1370 C1220,1390 1230,1440 1190,1470 L1250,1530 C1320,1480 1310,1340 1220,1290 Z" fill="#FFC20E" stroke="#231F20" stroke-width="9"/>
<path d="M415,1365 C520,1420 640,1440 760,1440 C880,1440 1000,1420 1105,1365 L1118,1470 C1010,1530 890,1550 760,1550 C630,1550 510,1530 402,1470 Z" fill="#FFCB2B" stroke="#231F20" stroke-width="9"/>
<defs><path id="ribbonPath" d="M470,1452 C560,1498 660,1515 760,1515 C860,1515 960,1498 1050,1452"/></defs>
<text font-size="92" font-weight="bold" font-style="italic" fill="#231F20" stroke="#231F20" stroke-width="4"><textPath href="#ribbonPath" startOffset="50%" text-anchor="middle" textLength="560" lengthAdjust="spacingAndGlyphs">KAMI MEMIMPIN</textPath></text>
</g>
</g>
</g>
</svg>
</body></html>
